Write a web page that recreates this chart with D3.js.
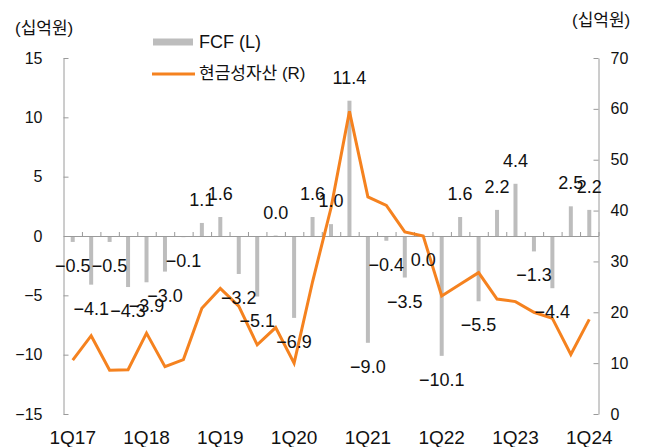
<!DOCTYPE html>
<html>
<head>
<meta charset="utf-8">
<script src="https://cdn.jsdelivr.net/npm/d3@7"></script>
<style>
    body { margin: 0; background: #fff; }
    text { font-family: "Liberation Sans", Arial, "Noto Sans CJK KR", sans-serif; fill: #111; }
</style>
</head>
<body>
<div id="chart"></div>
<script>
var quarters = [
    "1Q17", "2Q17", "3Q17", "4Q17", "1Q18", "2Q18", "3Q18", "4Q18",
    "1Q19", "2Q19", "3Q19", "4Q19", "1Q20", "2Q20", "3Q20", "4Q20",
    "1Q21", "2Q21", "3Q21", "4Q21", "1Q22", "2Q22", "3Q22", "4Q22",
    "1Q23", "2Q23", "3Q23", "4Q23", "1Q24",
];
var fcf = [
    -0.5, -4.1, -0.5, -4.3, -3.9, -3.0, -0.1, 1.1,
    1.6, -3.2, -5.1, 0.04, -6.9, 1.6, 1.0, 11.4,
    -9.0, -0.4, -3.5, -0.04, -10.1, 1.6, -5.5, 2.2,
    4.4, -1.3, -4.4, 2.5, 2.2,
];
var cash = [
    10.6, 15.4, 8.6, 8.7, 15.9, 9.3, 10.7, 20.8,
    24.7, 21.2, 13.6, 17.0, 10.0, 26.0, 40.5, 59.5,
    42.7, 41.0, 35.8, 35.0, 23.2, 25.5, 27.8, 22.6,
    22.1, 20.0, 18.8, 11.7, 18.6,
];
var leftTicks = [-15, -10, -5, 0, 5, 10, 15];
var rightTicks = [0, 10, 20, 30, 40, 50, 60, 70];
var xLabels = ["1Q17", "1Q18", "1Q19", "1Q20", "1Q21", "1Q22", "1Q23", "1Q24"];

function makeChart() {
    var width = 652,
        height = 447,
        left = 63.5,
        right = 598.5,
        top = 58,
        bottom = 414;

    var axisColor = "#9a9a9a",
        barColor = "#bdbdbd",
        lineColor = "#f5821f";

    var svg = d3
        .select("#chart")
        .append("svg")
        .attr("width", width)
        .attr("height", height);

    var x = d3.scaleBand().domain(quarters).range([left, right]).padding(0);
    var xb = d3.scaleLinear().domain([0, quarters.length]).range([left, right]);
    var y = d3.scaleLinear().domain([-15, 15]).range([bottom, top]);
    var yR = d3.scaleLinear().domain([0, 70]).range([bottom, top]);

    var fmt = d3.format(".1f");

    // bars
    svg.selectAll(".bar")
        .data(fcf)
        .enter()
        .append("rect")
        .attr("class", "bar")
        .attr("x", (d, i) => x(quarters[i]) + x.bandwidth() / 2 - 2)
        .attr("width", 4)
        .attr("y", (d) => y(Math.max(0, d)))
        .attr("height", (d) => Math.abs(y(d) - y(0)))
        .attr("fill", barColor);

    // zero line with category ticks
    var zeroAxis = svg
        .append("g")
        .attr("transform", "translate(0," + y(0) + ")")
        .call(
            d3.axisBottom(xb)
                .tickValues(d3.range(1, quarters.length + 1))
                .tickSize(-4)
                .tickSizeOuter(0)
                .tickFormat("")
        );
    zeroAxis.selectAll("path, line").attr("stroke", axisColor);

    var leftAxis = svg
        .append("g")
        .attr("transform", "translate(" + left + ",0)")
        .call(d3.axisLeft(y).tickValues(leftTicks).tickSizeInner(-5).tickSizeOuter(0).tickPadding(21));
    leftAxis.selectAll("path, line").attr("stroke", axisColor);
    leftAxis.selectAll("text").style("font-size", "16px").attr("fill", "#111");

    var rightAxis = svg
        .append("g")
        .attr("transform", "translate(" + right + ",0)")
        .call(d3.axisRight(yR).tickValues(rightTicks).tickSizeInner(-5).tickSizeOuter(0).tickPadding(12));
    rightAxis.selectAll("path, line").attr("stroke", axisColor);
    rightAxis.selectAll("text").style("font-size", "16px").attr("fill", "#111");

    var bottomAxis = svg
        .append("g")
        .attr("transform", "translate(0," + bottom + ")")
        .call(d3.axisBottom(x).tickValues(xLabels).tickSize(0).tickPadding(17));
    bottomAxis.select(".domain").remove();
    bottomAxis.selectAll("text").style("font-size", "19px").attr("fill", "#111");

    // cash line
    svg.append("path")
        .datum(cash)
        .attr("fill", "none")
        .attr("stroke", lineColor)
        .attr("stroke-width", 3)
        .attr("stroke-linejoin", "miter")
        .attr("d",
            d3.line()
                .x((d, i) => x(quarters[i]) + x.bandwidth() / 2)
                .y((d) => yR(d))
        );

    // bar labels
    svg.selectAll(".lbl")
        .data(fcf)
        .enter()
        .append("text")
        .attr("class", "lbl")
        .attr("x", (d, i) => x(quarters[i]) + x.bandwidth() / 2)
        .attr("y", (d) => y(d) + (d < 0 ? 24 : -23))
        .attr("text-anchor", "middle")
        .attr("dominant-baseline", "central")
        .style("font-size", "18px")
        .text((d) => fmt(d));

    // units
    svg.append("text")
        .attr("x", 15)
        .attr("y", 28)
        .attr("dominant-baseline", "central")
        .style("font-size", "17px")
        .text("(십억원)");
    svg.append("text")
        .attr("x", 572)
        .attr("y", 20)
        .attr("dominant-baseline", "central")
        .style("font-size", "17px")
        .text("(십억원)");

    // legend
    svg.append("rect")
        .attr("x", 153)
        .attr("y", 38.5)
        .attr("width", 40)
        .attr("height", 7)
        .attr("fill", barColor);
    svg.append("text")
        .attr("x", 199)
        .attr("y", 42)
        .attr("dominant-baseline", "central")
        .style("font-size", "18px")
        .text("FCF (L)");
    svg.append("line")
        .attr("x1", 152)
        .attr("x2", 195)
        .attr("y1", 74)
        .attr("y2", 74)
        .attr("stroke", lineColor)
        .attr("stroke-width", 3);
    svg.append("text")
        .attr("x", 199)
        .attr("y", 73)
        .attr("dominant-baseline", "central")
        .style("font-size", "17px")
        .text("현금성자산 (R)");
}

makeChart();
</script>
</body>
</html>
